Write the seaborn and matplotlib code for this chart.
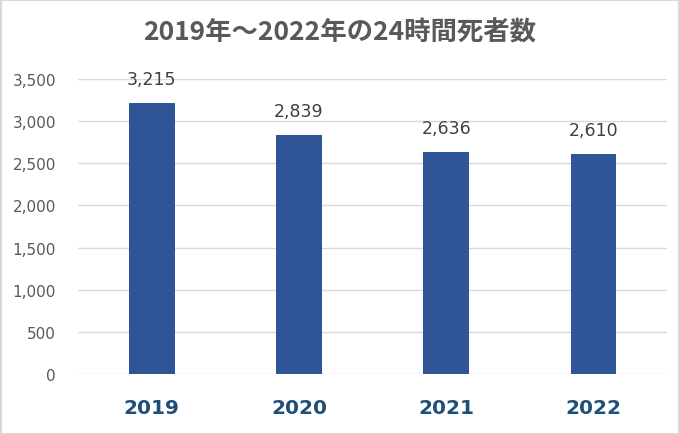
import matplotlib
matplotlib.use("Agg")
import matplotlib.pyplot as plt
import seaborn as sns
from matplotlib.patches import Rectangle

# data
years = ["2019", "2020", "2021", "2022"]
deaths = [3215, 2839, 2636, 2610]
y_ticks = [0, 500, 1000, 1500, 2000, 2500, 3000, 3500]

sns.set_theme(style="white")
plt.rcParams['font.family'] = ['DejaVu Sans', 'Noto Sans CJK JP']

fig = plt.figure(figsize=(6.8, 4.35), dpi=100)
ax = fig.add_axes([0.115, 0.138, 0.866, 0.678])

sns.barplot(x=years, y=deaths, color="#2F5597", width=0.31, saturation=1,
            linewidth=0, ax=ax)

ax.set_ylim(0, 3500)
ax.set_yticks(y_ticks)
ax.set_yticklabels([f"{v:,}" for v in y_ticks], color="#595959", fontsize=11)
ax.yaxis.grid(True, color="#D9D9D9", linewidth=1)
ax.set_axisbelow(True)
for s in ax.spines.values():
    s.set_visible(False)
ax.tick_params(axis="y", length=0, pad=16)
ax.tick_params(axis="x", length=0, pad=17)
for lab in ax.get_xticklabels():
    lab.set_color("#1F4E79")
    lab.set_fontsize(14.5)
    lab.set_fontweight("bold")
ax.set_xlim(-0.5, 3.5)

# value labels above the bars
for i, v in enumerate(deaths):
    ax.annotate(f"{v:,}", (i, v), xytext=(0, 17), textcoords="offset points",
                ha="center", va="center", fontsize=12.5, color="#404040")

fig.text(0.5, 0.924, "2019年～2022年の24時間死者数", ha="center", va="center",
         fontsize=19, fontweight="bold", color="#595959",
         family=['Noto Sans CJK JP', 'DejaVu Sans'])

# thin frame round the whole chart
fig.patches.append(Rectangle((0.001, 0.001), 0.997, 0.996, transform=fig.transFigure,
                             fill=False, edgecolor="#D9D9D9", linewidth=1.5))

fig.savefig("out.png", dpi=100)
